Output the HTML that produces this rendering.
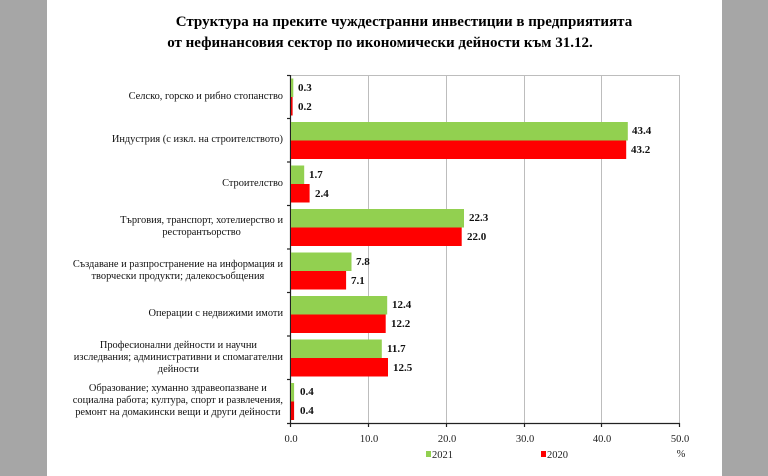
<!DOCTYPE html>
<html><head><meta charset="utf-8"><style>
body{margin:0;width:768px;height:476px;background:#a6a6a6;overflow:hidden;font-family:"Liberation Serif",serif}
#p{position:absolute;left:47px;top:0;width:675px;height:476px;background:#fff}
.t{position:absolute;left:0;width:768px;font-weight:bold;font-size:15px;text-align:center}
.l{position:absolute;right:485px;display:flex;flex-direction:column;justify-content:center;text-align:center;font-size:10.4px;line-height:12px;color:#111}
</style></head><body>
<div id="p"></div>
<div class="t" style="top:14px;left:20px">Структура на преките чуждестранни инвестиции в предприятията</div>
<div class="t" style="top:35px;left:-4px">от нефинансовия сектор по икономически дейности към 31.12.</div>
<div class="l" style="top:75px;height:43px">Селско, горско и рибно стопанство</div>
<div class="l" style="top:118px;height:43px">Индустрия (с изкл. на строителството)</div>
<div class="l" style="top:162px;height:43px">Строителство</div>
<div class="l" style="top:205px;height:43px">Търговия, транспорт, хотелиерство и<br>ресторантьорство</div>
<div class="l" style="top:249px;height:43px">Създаване и разпространение на информация и<br>творчески продукти; далекосъобщения</div>
<div class="l" style="top:292px;height:43px">Операции с недвижими имоти</div>
<div class="l" style="top:336px;height:43px">Професионални дейности и научни<br>изследвания; административни и спомагателни<br>дейности</div>
<div class="l" style="top:379px;height:43px">Образование; хуманно здравеопазване и<br>социална работа; култура, спорт и развлечения,<br>ремонт на домакински вещи и други дейности</div>
<svg width="768" height="476" style="position:absolute;left:0;top:0" font-family="Liberation Serif,serif">
<g stroke="#bdbdbd" stroke-width="1">
<line x1="290" y1="75.5" x2="679" y2="75.5"/>
<line x1="368.5" y1="75" x2="368.5" y2="423"/><line x1="446.5" y1="75" x2="446.5" y2="423"/>
<line x1="524.5" y1="75" x2="524.5" y2="423"/><line x1="601.5" y1="75" x2="601.5" y2="423"/>
<line x1="679.5" y1="75" x2="679.5" y2="423"/>
</g>
<g stroke="#222" stroke-width="1.2">
<line x1="290.5" y1="75" x2="290.5" y2="424"/><line x1="287" y1="423.5" x2="680" y2="423.5"/>
<line x1="287" y1="75.5" x2="290" y2="75.5"/><line x1="287" y1="118.5" x2="290" y2="118.5"/><line x1="287" y1="162" x2="290" y2="162"/><line x1="287" y1="205.5" x2="290" y2="205.5"/><line x1="287" y1="249" x2="290" y2="249"/><line x1="287" y1="292.5" x2="290" y2="292.5"/><line x1="287" y1="336" x2="290" y2="336"/><line x1="287" y1="379.5" x2="290" y2="379.5"/>
<line x1="290.5" y1="423" x2="290.5" y2="427"/><line x1="368.5" y1="423" x2="368.5" y2="427"/><line x1="446.5" y1="423" x2="446.5" y2="427"/><line x1="524.5" y1="423" x2="524.5" y2="427"/><line x1="601.5" y1="423" x2="601.5" y2="427"/><line x1="679.5" y1="423" x2="679.5" y2="427"/>
</g>
<g font-size="10.5" text-anchor="middle" fill="#222">
<text x="291" y="442">0.0</text><text x="369" y="442">10.0</text><text x="447" y="442">20.0</text><text x="525" y="442">30.0</text><text x="602" y="442">40.0</text><text x="680" y="442">50.0</text>
<text x="681" y="457">%</text>
</g>
<rect x="426" y="451" width="5" height="6" fill="#92d050"/><text x="432" y="458" font-size="10.5" fill="#222">2021</text>
<rect x="541" y="451" width="5" height="6" fill="#f00"/><text x="547" y="458" font-size="10.5" fill="#222">2020</text>
<g font-size="11" font-weight="bold" fill="#111">
<rect x="291" y="78.5" width="2.3" height="18.5" fill="#92d050"/><rect x="291" y="97" width="1.6" height="18.5" fill="#e00"/>
<text x="298" y="91">0.3</text><text x="298" y="110">0.2</text>
<rect x="291" y="122" width="336.8" height="18.5" fill="#92d050"/><rect x="291" y="140.5" width="335.2" height="18.5" fill="#f00"/>
<text x="632" y="134">43.4</text><text x="631" y="153">43.2</text>
<rect x="291" y="165.5" width="13.2" height="18.5" fill="#92d050"/><rect x="291" y="184" width="18.6" height="18.5" fill="#f00"/>
<text x="309" y="178">1.7</text><text x="315" y="197">2.4</text>
<rect x="291" y="209" width="173" height="18.5" fill="#92d050"/><rect x="291" y="227.5" width="170.7" height="18.5" fill="#f00"/>
<text x="469" y="221">22.3</text><text x="467" y="240">22.0</text>
<rect x="291" y="252.5" width="60.5" height="18.5" fill="#92d050"/><rect x="291" y="271" width="55.1" height="18.5" fill="#f00"/>
<text x="356" y="265">7.8</text><text x="351" y="284">7.1</text>
<rect x="291" y="296" width="96.2" height="18.5" fill="#92d050"/><rect x="291" y="314.5" width="94.7" height="18.5" fill="#f00"/>
<text x="392" y="308">12.4</text><text x="391" y="327">12.2</text>
<rect x="291" y="339.5" width="90.8" height="18.5" fill="#92d050"/><rect x="291" y="358" width="97" height="18.5" fill="#f00"/>
<text x="387" y="352">11.7</text><text x="393" y="371">12.5</text>
<rect x="291" y="383" width="3.1" height="18.5" fill="#92d050"/><rect x="291" y="401.5" width="3.1" height="18.5" fill="#e00"/>
<text x="300" y="395">0.4</text><text x="300" y="414">0.4</text>
</g>
</svg>
</body></html>
